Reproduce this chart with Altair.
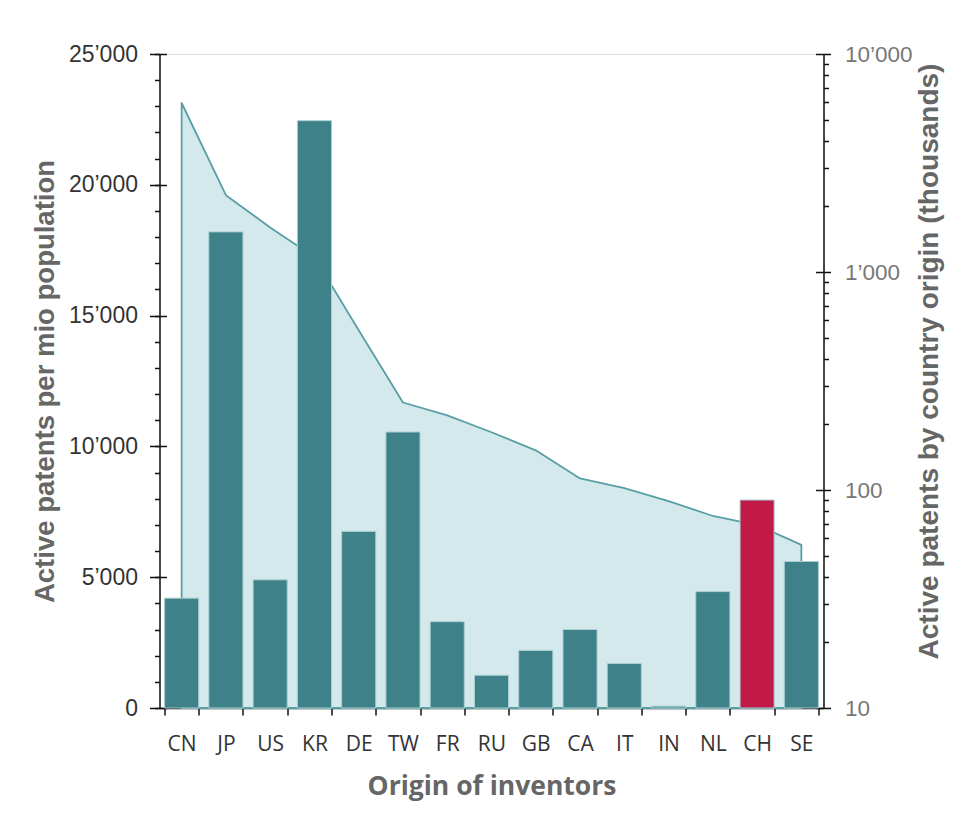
import altair as alt
import pandas as pd

countries = ["CN", "JP", "US", "KR", "DE", "TW", "FR", "RU", "GB", "CA", "IT", "IN", "NL", "CH", "SE"]
per_mio = [4200, 18200, 4900, 22450, 6750, 10550, 3300, 1250, 2200, 3000, 1700, 70, 4450, 7950, 5600]
active_k = [5960, 2250, 1600, 1170, 540, 252, 220, 184, 152, 113, 102, 89, 76, 69, 56]
highlight = "CH"

left_major = [0, 5000, 10000, 15000, 20000, 25000]
left_minor = list(range(0, 25001, 1000))
right_major = [10, 100, 1000, 10000]
right_minor = [20, 30, 40, 50, 60, 70, 80, 90, 200, 300, 400, 500, 600, 700, 800, 900,
               2000, 3000, 4000, 5000, 6000, 7000, 8000, 9000]

df = pd.DataFrame({"country": countries, "per_mio": per_mio, "active": active_k})

TEAL = "#3e8188"
RED = "#c21a47"
AREA_FILL = "#d4e9ec"
AREA_LINE = "#5a9ea5"
label_expr = "replace(format(datum.value, ','), ',', '’')"

xscale = alt.Scale(paddingInner=0.23, paddingOuter=0.115)
xenc = alt.X(
    "country:N", sort=countries, scale=xscale,
    axis=alt.Axis(
        title="Origin of inventors", labelAngle=0, tickBand="extent",
        domainColor="#111", domainWidth=1.5, tickColor="#111", tickWidth=1.5, tickSize=7,
        labelFont="Open Sans", labelFontSize=21, labelColor="#333", labelPadding=18,
        titleFont="Open Sans", titleFontSize=26.5, titleFontWeight="bold", titleColor="#666",
        titlePadding=19,
    ),
)

lscale = alt.Scale(domain=[0, 25000], nice=False, zero=True)
rscale = alt.Scale(type="log", domain=[10, 10000], nice=False)

area = alt.Chart(df).mark_area(
    fill=AREA_FILL, stroke=AREA_LINE, strokeWidth=1.8, strokeJoin="round"
).encode(
    x=xenc,
    y=alt.Y("active:Q", scale=rscale, axis=alt.Axis(
        orient="right", values=right_major, labelExpr=label_expr,
        title="Active patents by country origin (thousands)",
        domainColor="#111", domainWidth=1.5, tickColor="#111", tickWidth=1.5, tickSize=7,
        labelFont="Liberation Sans", labelFontSize=22.5, labelColor="#777", labelPadding=14,
        titleFont="Liberation Sans", titleFontSize=28, titleFontWeight="bold", titleColor="#666",
        titleAngle=270, titleBaseline="top", titlePadding=3, titleY=307, grid=False,
    )),
    y2=alt.datum(10),
)

bars = alt.Chart(df).mark_bar(stroke="#a9cfd3", strokeWidth=1).encode(
    x=xenc,
    y=alt.Y("per_mio:Q", scale=lscale, axis=alt.Axis(
        orient="left", values=left_major, labelExpr=label_expr,
        title="Active patents per mio population",
        domainColor="#111", domainWidth=1.5, tickColor="#111", tickWidth=1.5, tickSize=10,
        labelFont="Liberation Sans", labelFontSize=23, labelColor="#333", labelPadding=12,
        titleFont="Liberation Sans", titleFontSize=27.5, titleFontWeight="bold", titleColor="#666",
        titlePadding=9, grid=False,
    )),
    color=alt.condition(alt.datum.country == highlight, alt.value(RED), alt.value(TEAL)),
)

def tick_layer(field, scale, orient, values, size, offset):
    return alt.Chart(df).mark_point(opacity=0).encode(
        x=xenc,
        y=alt.Y(field, scale=scale, axis=alt.Axis(
            orient=orient, values=values, labels=False, domain=False, title=None,
            tickColor="#111", tickWidth=1.5, tickSize=size, offset=offset, grid=False,
        )),
    )

left_minor_l = tick_layer("per_mio:Q", lscale, "left", left_minor, 5, 0)
left_inner_l = tick_layer("per_mio:Q", lscale, "left", left_major, 7, -7)
right_minor_l = tick_layer("active:Q", rscale, "right", right_minor, 5, 0)
right_inner_l = tick_layer("active:Q", rscale, "right", right_major, 8, -8)

chart = alt.layer(
    area, bars, left_minor_l, left_inner_l, right_minor_l, right_inner_l
).resolve_scale(y="independent").properties(
    width=664, height=654,
    autosize=alt.AutoSizeParams(type="none"),
    padding={"left": 151.5, "top": 46, "right": 130, "bottom": 110},
).configure_view(stroke=None).configure(background="white")

chart.save("out.html", embed_options={"renderer": "svg", "actions": False})
